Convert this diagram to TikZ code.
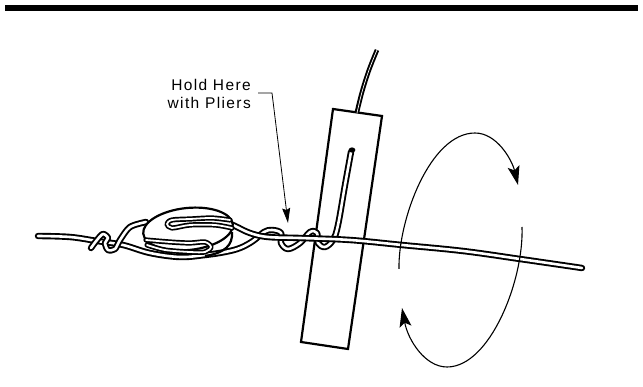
\documentclass[tikz,border=0pt]{standalone}
\usepackage{fontspec}
\setmainfont[LetterSpace=9]{Liberation Sans}
\usetikzlibrary{arrows.meta}
\tikzset{
  wireo/.style={line width=6.4pt,black,line cap=round,line join=round},
  wirei/.style={line width=2.6pt,white,line cap=round,line join=round},
  sloto/.style={line width=5.2pt,black,line cap=round,line join=round},
  sloti/.style={line width=1.8pt,white,line cap=round,line join=round},
  heavy/.style={line width=2.2pt,black,line join=miter},
  rotarrow/.style={line width=1.1pt,black,-{Stealth[length=19pt,width=12pt,inset=4pt]}},
  label text/.style={font=\fontsize{15.5}{18}\selectfont,align=right,inner sep=0pt,anchor=east}
}
\newcommand{\wirepath}[2][0.6]{%
  \draw[wireo] plot[smooth,tension=#1] coordinates {#2};
  \draw[wirei] plot[smooth,tension=#1] coordinates {#2};}
\newcommand{\slotpath}[1]{%
  \draw[sloto] plot[smooth,tension=0.5] coordinates {#1};
  \draw[sloti] plot[smooth,tension=0.5] coordinates {#1};}
\begin{document}
\begin{tikzpicture}[x=1pt,y=-1pt]
\useasboundingbox (0,0) rectangle (643,387);
\fill[white] (0,0) rectangle (643,387);
\fill[black] (5,5) rectangle (638,11);
% box
\draw[heavy] (333,109) -- (382,116) -- (348,349) -- (301,342) -- cycle;
% lead
\draw[line width=4.6pt,black] plot[smooth,tension=0.6] coordinates {(377,50) (369,70) (362,92) (357,112)};
\draw[line width=0.7pt,white] plot[smooth,tension=0.6] coordinates {(377,50) (369,70) (362,92) (357,113)};
% main wire
\wirepath{(38,236) (70,237) (97,241) (123,245) (150,253) (180,257) (205,255) (225,252) (240,248) (253,241) (264,232) (272,230) (281,233) (281,243) (288,249) (300,243) (310,232) (317,233) (318,243) (325,247) (333,240) (338,225) (345,185) (351,152)}
\wirepath{(215,217) (235,226) (250,233) (268,237) (300,238) (350,240) (402,245) (463,251) (520,259) (582,268)}
\fill[black] (352,150) ellipse (3.4pt and 2.6pt);
% left wrap
\wirepath[0.5]{(146,222) (130,227) (120,240) (115,249) (108,250) (105,243) (108,238) (103,234) (97,240) (91,248)}
% thimble
\draw[heavy] (232,232) .. controls (233,245) and (225,253) .. (205,256);
\draw[heavy,fill=white,rotate around={6:(188,229)}] (188,229) ellipse (45pt and 21pt);
% slots
\slotpath{(230,220) (212,218) (190,219) (172,220) (167,224) (172,228) (190,225) (215,225) (232,228)}
\slotpath{(146,240) (170,242) (190,243) (205,242) (211,247) (205,252) (190,252) (165,250) (147,245)}
% label
\node[label text] (lbl1) at (251,85) {Hold Here};
\node[label text] (lbl2) at (251,103) {with Pliers};
\coordinate (ld1) at (258,93);
\coordinate (ld2) at (272,93);
\coordinate (ld3) at (288,223);
\draw[line width=0.8pt,-{Stealth[length=15pt,width=8pt,inset=2pt]}] (ld1) -- (ld2) -- (ld3);
% rotation arrows
\draw[rotarrow] (399,269) .. controls (398,220) and (430,133) .. (475,133) .. controls (497,133) and (512,160) .. (518,185);
\draw[rotarrow] (522,227) .. controls (524,280) and (490,367) .. (447,367) .. controls (425,367) and (408,340) .. (402,308);
\end{tikzpicture}
\end{document}
